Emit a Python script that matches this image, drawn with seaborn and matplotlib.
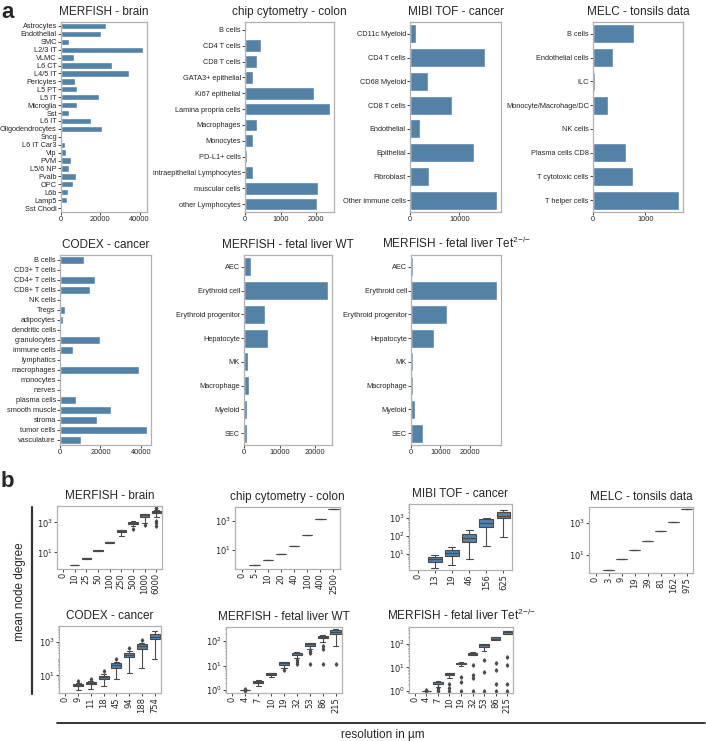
import numpy as np
import pandas as pd
import seaborn as sns
import matplotlib.pyplot as plt
from matplotlib.lines import Line2D
from matplotlib.ticker import NullFormatter

sns.set_style("ticks")
plt.rcParams['font.family'] = ['Liberation Sans', 'DejaVu Sans']

W, H = 706, 741

# ---- panel a: cell type counts ----
brain_types = ['Astrocytes', 'Endothelial', 'SMC', 'L2/3 IT', 'VLMC', 'L6 CT', 'L4/5 IT', 'Pericytes',
               'L5 PT', 'L5 IT', 'Microglia', 'Sst', 'L6 IT', 'Oligodendrocytes', 'Sncg', 'L6 IT Car3',
               'Vip', 'PVM', 'L5/6 NP', 'Pvalb', 'OPC', 'L6b', 'Lamp5', 'Sst Chodl']
brain_counts = [22700, 20200, 4200, 41700, 6700, 26200, 34600, 7100, 8200, 19500, 7900, 3900,
                15500, 21000, 300, 1800, 2700, 5200, 3900, 7600, 6000, 3500, 3000, 200]

chip_types = ['B cells', 'CD4 T cells', 'CD8 T cells', 'GATA3+ epithelial', 'Ki67 epithelial',
              'Lamina propria cells', 'Macrophages', 'Monocytes', 'PD-L1+ cells',
              'intraepithelial Lymphocytes', 'muscular cells', 'other Lymphocytes']
chip_counts = [30, 450, 340, 230, 1950, 2380, 350, 235, 55, 235, 2040, 2020]

mibi_types = ['CD11c Myeloid', 'CD4 T cells', 'CD68 Myeloid', 'CD8 T cells', 'Endothelial',
              'Epithelial', 'Fibroblast', 'Other immune cells']
mibi_counts = [1300, 15300, 3600, 8500, 2100, 12900, 3900, 17600]

melc_types = ['B cells', 'Endothelial cells', 'ILC', 'Monocyte/Macrohage/DC', 'NK cells',
              'Plasma cells CD8', 'T cytotoxic cells', 'T helper cells']
melc_counts = [790, 380, 45, 280, 10, 637, 770, 1637]

codex_types = ['B cells', 'CD3+ T cells', 'CD4+ T cells', 'CD8+ T cells', 'NK cells', 'Tregs',
               'adipocytes', 'dendritic cells', 'granulocytes', 'immune cells', 'lymphatics',
               'macrophages', 'monocytes', 'nerves', 'plasma cells', 'smooth muscle', 'stroma',
               'tumor cells', 'vasculature']
codex_counts = [11700, 100, 17100, 14900, 100, 2500, 1700, 100, 19900, 6500, 100, 39200, 600,
                500, 7900, 25100, 18100, 42800, 10500]

liver_types = ['AEC', 'Erythroid cell', 'Erythroid progenitor', 'Hepatocyte', 'MK', 'Macrophage',
               'Myeloid', 'SEC']
wt_counts = [1840, 23600, 6000, 6700, 1000, 1470, 920, 830]
tet_counts = [800, 29100, 12200, 7950, 800, 700, 1500, 4200]

# ---- panel b: mean node degree per resolution ----
brain_res = ['0', '10', '25', '50', '100', '250', '500', '1000', '6000']
brain_deg = [[],
             [1.4, 1.43, 1.45, 1.47, 1.5],
             [3.4, 3.6, 3.9, 4.2, 4.4],
             [11.7, 12.3, 13, 13.8, 14.5],
             [40, 43, 46, 49, 51],
             [123, 160, 230, 250, 270, 285, 307, 310, 320],
             [360, 550, 815, 900, 960, 1030, 1100, 1120, 1150],
             [630, 900, 1700, 2400, 2600, 2800, 2950, 3100, 3250, 3400, 3450, 3500, 3550],
             [600, 900, 1300, 2300, 4500, 4700, 4900, 5000, 5200, 5300, 5500, 5700, 6000,
              6500, 7000, 8500, 9500]]

chip_res = ['0', '5', '10', '20', '40', '100', '400', '2500']
chip_deg = [[], [1, 1, 1], [2.1, 2.1, 2.1], [5.4, 5.4, 5.4], [19, 19, 19], [105, 105, 105],
            [1250, 1250, 1250], [6000, 6000, 6000]]

mibi_res = ['0', '13', '19', '46', '156', '625']
mibi_deg = [[],
            [1.7, 3.4, 4.9, 6.9, 8.1],
            [2.3, 7.4, 11, 16.6, 23],
            [5, 44, 77, 129, 195],
            [26, 300, 500, 800, 1000],
            [80, 900, 1300, 2000, 2700]]

melc_res = ['0', '3', '9', '19', '39', '81', '162', '975']
melc_deg = [[], [1.2, 1.2, 1.2], [5.4, 5.4, 5.4], [20, 20, 20], [77, 77, 77], [320, 320, 320],
            [1150, 1150, 1150], [7000, 7000, 7000]]

codex_res = ['0', '9', '11', '18', '45', '94', '188', '754']
codex_deg = [[],
             [1.35, 1.9, 2.3, 2.5, 2.7, 2.9, 3.2, 3.5, 4.8],
             [1.5, 2.3, 3.1, 3.3, 3.5, 3.8, 4.2, 4.6, 6.2],
             [2.2, 4, 6, 6.8, 7.6, 8.5, 9.5, 11.5, 17],
             [6.3, 18, 29, 34, 39, 45, 51, 64, 90],
             [13.8, 60, 117, 140, 162, 190, 222, 280, 400],
             [29, 200, 380, 450, 525, 600, 690, 860, 1200],
             [89, 700, 1380, 1700, 1990, 2300, 2750, 3500, 4300]]

liver_res = ['0', '4', '7', '10', '19', '32', '53', '86', '215']
wt_deg = [[],
          [0.95, 1, 1, 1, 1.08],
          [1.5, 1.7, 2.0, 2.1, 2.2, 2.3, 2.4, 2.45, 2.5],
          [3.3, 3.7, 4.0, 4.2, 4.4, 4.6, 4.8, 4.9, 5.0],
          [6.6, 8, 11, 11.8, 12.5, 13, 13.5, 13.8, 14],
          [12, 14.5, 17, 21, 28, 29, 30, 30.5, 31, 31.5, 32, 32.5, 33, 33.5, 34, 34.5, 35],
          [12, 32, 38, 45, 64, 67, 70, 72, 74, 76, 78, 79, 80, 81, 82, 83, 84],
          [12, 46, 60, 90, 132, 137, 142, 147, 150, 154, 158, 162, 165, 167, 169, 171, 173],
          [12, 63, 80, 110, 193, 205, 215, 225, 235, 245, 255, 268, 280, 290, 300, 310, 320]]
tet_deg = [[],
           [0.95, 1, 1, 1, 1.08],
           [1.0, 1.1, 1.3, 1.5, 2.0, 2.1, 2.15, 2.2, 2.25, 2.3, 2.35, 2.38, 2.4, 2.45, 2.5, 2.55, 2.6],
           [1.0, 1.3, 2.0, 3.4, 4.6, 4.7, 4.8, 4.9, 5.0, 5.1, 5.2, 5.3, 5.5, 5.6, 5.7, 5.8, 5.9],
           [1.0, 2.3, 4, 11.5, 14, 14.3, 14.6, 14.8, 15, 15.2, 15.4, 15.7, 16, 16.2, 16.4, 16.6, 16.8],
           [1, 3.4, 4.7, 12, 35, 36, 37, 38, 38.5, 39, 39.5, 40, 42, 43, 44, 45, 46],
           [1, 6.5, 20, 50, 77, 80, 83, 86, 88, 90, 92, 94, 97, 99, 101, 103, 105],
           [1, 2, 8, 15, 148, 155, 162, 168, 172, 176, 180, 186, 195, 198, 201, 204, 207],
           [1, 2, 12, 28, 260, 275, 290, 305, 315, 325, 335, 345, 360, 365, 370, 375, 380]]

TET = r'MERFISH - fetal liver Tet$^{\mathregular{2{-}/{-}}}$'

fig = plt.figure(figsize=(W / 100, H / 100), dpi=100)


def add_ax(l, t, r, b):
    return fig.add_axes([l / W, 1 - b / H, (r - l) / W, (b - t) / H])


def style_spines(ax):
    for s in ax.spines.values():
        s.set_color('#b0b0b0')
        s.set_linewidth(0.9)


def bar_panel(pos, title, labels, counts, ticks):
    ax = add_ax(*pos)
    sns.barplot(x=counts, y=labels, color='steelblue', orient='h', ax=ax)
    ax.set_title(title, fontsize=8.5, pad=5)
    ax.set_xticks(ticks)
    ax.set_xlabel('')
    ax.set_ylabel('')
    ax.tick_params(labelsize=5.3, length=2, width=0.6, pad=1)
    style_spines(ax)
    return ax


def box_panel(pos, title, res, deg, ylim, yticks):
    df = pd.DataFrame([(r, v) for r, vals in zip(res, deg) for v in vals], columns=['res', 'deg'])
    ax = add_ax(*pos)
    sns.boxplot(data=df, x='res', y='deg', order=res, color='steelblue', width=0.8,
                linewidth=0.8, fliersize=1.8, linecolor='#4a4a4a',
                flierprops={'marker': 'd', 'markerfacecolor': '#4a4a4a',
                            'markeredgecolor': '#4a4a4a'}, ax=ax)
    ax.set_yscale('log')
    ax.set_ylim(10 ** ylim[0], 10 ** ylim[1])
    ax.set_yticks([10.0 ** k for k in yticks])
    ax.yaxis.set_minor_formatter(NullFormatter())
    ax.set_title(title, fontsize=8.5, pad=5)
    ax.set_xlabel('')
    ax.set_ylabel('')
    ax.tick_params(labelsize=6, length=2, width=0.6, pad=1)
    ax.tick_params(axis='y', which='minor', length=1, width=0.4)
    for lab in ax.get_xticklabels() + ax.get_yticklabels():
        lab.set_fontfamily('DejaVu Sans')
    ax.tick_params(axis='x', labelrotation=90)
    style_spines(ax)
    return ax


bar_panel((61, 22, 147, 212), 'MERFISH - brain', brain_types, brain_counts, [0, 20000, 40000])
bar_panel((245, 22, 334, 212), 'chip cytometry - colon', chip_types, chip_counts, [0, 1000, 2000])
bar_panel((410, 22, 501, 212), 'MIBI TOF - cancer', mibi_types, mibi_counts, [0, 10000])
bar_panel((593, 22, 683, 212), 'MELC - tonsils data', melc_types, melc_counts, [0, 1000])
bar_panel((60, 255, 151, 445), 'CODEX - cancer', codex_types, codex_counts, [0, 20000, 40000])
bar_panel((244, 255, 332, 445), 'MERFISH - fetal liver WT', liver_types, wt_counts, [0, 10000, 20000])
bar_panel((411, 255, 501, 445), TET, liver_types, tet_counts, [0, 10000, 20000])

box_panel((57, 506, 162, 569), 'MERFISH - brain', brain_res, brain_deg, (-0.11, 4.09), [1, 3])
box_panel((235, 507, 340, 569), 'chip cytometry - colon', chip_res, chip_deg, (-0.3, 3.93), [1, 3])
box_panel((409, 504, 512, 570), 'MIBI TOF - cancer', mibi_res, mibi_deg, (0.1, 3.75), [1, 2, 3])
box_panel((589, 507, 693, 573), 'MELC - tonsils data', melc_res, melc_deg, (-0.11, 3.97), [1, 3])
box_panel((59, 626, 161, 693), 'CODEX - cancer', codex_res, codex_deg, (-0.05, 3.93), [1, 3])
box_panel((226, 627, 342, 693), 'MERFISH - fetal liver WT', liver_res, wt_deg, (-0.12, 2.57), [0, 1, 2])
box_panel((409, 627, 513, 693), TET, liver_res, tet_deg, (-0.1, 2.73), [0, 1, 2])

# panel letters and shared labels
fig.text(1 / W, 1 - 2 / H, 'a', fontsize=16, fontweight='bold', va='top', ha='left')
fig.text(1 / W, 1 - 471 / H, 'b', fontsize=16, fontweight='bold', va='top', ha='left')
fig.add_artist(Line2D([32 / W, 32 / W], [1 - 507 / H, 1 - 694 / H], color='#333333', lw=1.6))
fig.add_artist(Line2D([57 / W, 705 / W], [1 - 723 / H, 1 - 723 / H], color='#111111', lw=1.2))
fig.text(20 / W, 1 - 592 / H, 'mean node degree', fontsize=8.5, rotation=90, ha='center', va='center')
fig.text(383 / W, 1 - 735 / H, 'resolution in µm', fontsize=8.5, ha='center', va='center')

fig.savefig('out.png', dpi=100)
